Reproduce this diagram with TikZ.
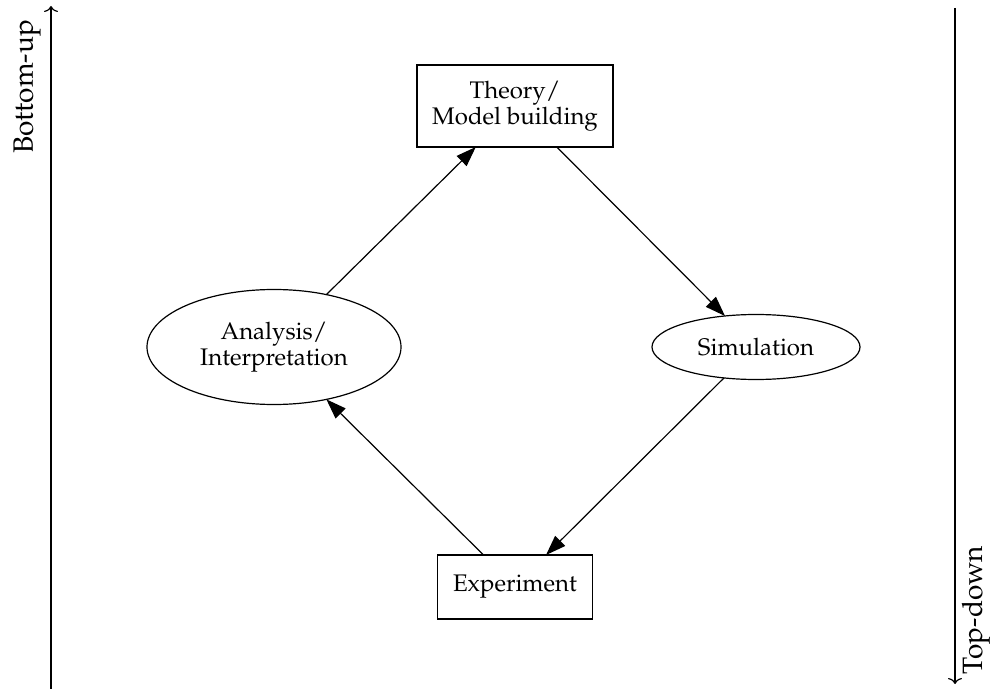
\documentclass[tikz,border=0pt]{standalone}
\usepackage[T1]{fontenc}
\usepackage{mathpazo}
\usetikzlibrary{shapes.geometric,arrows.meta,calc}
\begin{document}
\begin{tikzpicture}[x=0.5pt,y=-0.5pt,
  every node/.style={inner sep=0pt,outer sep=0pt,align=center,font=\fontsize{12}{12.8}\selectfont},
  boxnode/.style={draw,line width=0.6pt,rectangle},
  ellnode/.style={draw,line width=0.6pt,ellipse},
  flow/.style={line width=0.6pt,-{Triangle[length=10pt,width=7pt]}},
  axis/.style={line width=0.6pt,-{To[length=3pt,width=7pt]}},
  sidelabel/.style={rotate=90,font=\fontsize{14}{16}\selectfont}]
\useasboundingbox (0,0) rectangle (994,689);
\node[boxnode,minimum width=98pt,minimum height=41pt] (T) at (515,106) {Theory/\\Model building};
\node[ellnode,minimum width=127pt,minimum height=57.5pt] (A) at (274,347) {Analysis/\\Interpretation};
\node[ellnode,minimum width=104pt,minimum height=32.5pt] (S) at (756,347) {Simulation};
\node[boxnode,minimum width=77.5pt,minimum height=32pt] (E) at (515,587) {Experiment};
\draw[flow] (A.45) -- ($(T.south west)!0.30!(T.south east)$);
\draw[flow] ($(T.south west)!0.713!(T.south east)$) -- (S.135);
\draw[flow] (S.224) -- ($(E.north west)!0.70!(E.north east)$);
\draw[flow] ($(E.north west)!0.297!(E.north east)$) -- (A.-45);
\coordinate (L0) at (51,689);
\coordinate (L1) at (51,6);
\coordinate (R0) at (955,8);
\coordinate (R1) at (955,684);
\draw[axis] (L0) -- (L1);
\draw[axis] (R0) -- (R1);
\node[sidelabel] (BU) at (27,87) {Bottom-up};
\node[sidelabel] (TD) at (976,610) {Top-down};
\end{tikzpicture}
\end{document}
